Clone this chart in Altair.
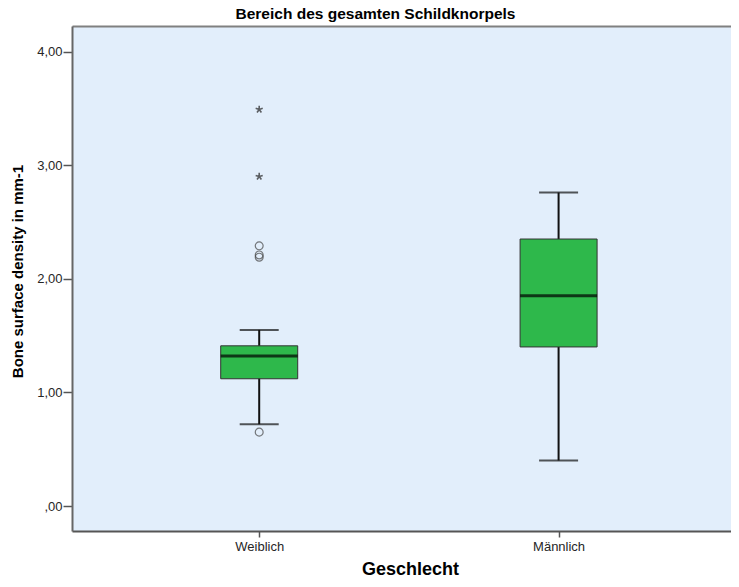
import altair as alt
import pandas as pd

# ---- data ----
groups = ["Weiblich", "Männlich"]
q1 = [1.12, 1.40]
median = [1.32, 1.85]
q3 = [1.41, 2.35]
whisker_low = [0.72, 0.40]
whisker_high = [1.55, 2.76]

outlier_group = ["Weiblich", "Weiblich", "Weiblich", "Weiblich"]
outlier_values = [0.65, 2.29, 2.21, 2.19]

extreme_group = ["Weiblich", "Weiblich"]
extreme_values = [3.49, 2.90]

y_ticks = [0, 1, 2, 3, 4]

# category position = index of the group in the category list
pos = {g: i for i, g in enumerate(groups)}

boxes = pd.DataFrame({
    "group": groups, "pos": [pos[g] for g in groups],
    "q1": q1, "median": median, "q3": q3,
    "lo": whisker_low, "hi": whisker_high,
})
outliers = pd.DataFrame({"group": outlier_group,
                         "pos": [pos[g] for g in outlier_group],
                         "value": outlier_values})
extremes = pd.DataFrame({"group": extreme_group,
                         "pos": [pos[g] for g in extreme_group],
                         "value": extreme_values})

x_scale = alt.Scale(domain=[-0.6086, 1.5592], nice=False, zero=False)
label_list = "[" + ",".join("'" + g + "'" for g in groups) + "]"

x_main = alt.X(
    "pos:Q",
    scale=x_scale,
    axis=alt.Axis(
        title="Geschlecht", values=list(range(len(groups))),
        labelExpr=label_list + "[datum.value]", grid=False,
        labelAngle=0, labelFontSize=13, labelColor="#262626",
        labelFont="Liberation Sans", labelPadding=3,
        tickSize=6, tickColor="#555555", tickWidth=1.5,
        domainColor="#555555", domainWidth=2,
        titleFont="Liberation Sans", titleFontSize=18, titleFontWeight="bold",
        titleColor="#000000", titleX=338, titleY=43, titleBaseline="alphabetic",
        titleAlign="center",
    ),
)
x_top = alt.X(
    "pos:Q", scale=x_scale,
    axis=alt.Axis(orient="top", title=None, labels=False, ticks=False, grid=False,
                  domainColor="#808080", domainWidth=2),
)
x_plain = alt.X("pos:Q", scale=x_scale, axis=None)

y_scale = alt.Scale(domain=[-0.22, 4.225], nice=False, zero=False)
y_axis = alt.Axis(
    title="Bone surface density in mm-1", values=y_ticks, grid=False,
    labelExpr="datum.value == 0 ? ',00' : replace(format(datum.value, '.2f'), '.', ',')",
    labelFontSize=13, labelColor="#262626", labelFont="Liberation Sans", labelPadding=1,
    tickSize=9, tickColor="#555555", tickWidth=1.5,
    domainColor="#666666", domainWidth=2,
    titleFont="Liberation Sans", titleFontSize=15, titleFontWeight="bold",
    titleColor="#000000", titleX=-47, titleY=245, titleAngle=-90,
    titleBaseline="bottom", titleAlign="center",
)

base = alt.Chart(boxes)

whisker = base.mark_rule(color="#111111", strokeWidth=2).encode(
    x=x_main,
    y=alt.Y("lo:Q", scale=y_scale, axis=y_axis),
    y2="hi:Q",
)
cap_lo = base.mark_tick(color="#111111", size=39, thickness=2, orient="horizontal").encode(
    x=x_top, y=alt.Y("lo:Q", scale=y_scale)
)
cap_hi = base.mark_tick(color="#111111", size=39, thickness=2, orient="horizontal").encode(
    x=x_plain, y=alt.Y("hi:Q", scale=y_scale)
)
box = base.mark_bar(size=77, color="#2EB84B", stroke="#333333", strokeWidth=1,
                    orient="vertical").encode(
    x=x_plain, y=alt.Y("q1:Q", scale=y_scale), y2="q3:Q"
)
med = base.mark_tick(color="#000000", size=77, thickness=3, orient="horizontal").encode(
    x=x_plain, y=alt.Y("median:Q", scale=y_scale)
)
out_pts = alt.Chart(outliers).mark_point(
    shape="circle", filled=False, size=62, stroke="#444444", strokeWidth=1.2
).encode(x=x_plain, y=alt.Y("value:Q", scale=y_scale))

star_path = ("M0,-1L0,0M0,0L0.951,-0.309M0,0L0.588,0.809"
             "M0,0L-0.588,0.809M0,0L-0.951,-0.309")
ext_pts = alt.Chart(extremes).mark_point(
    shape=star_path, filled=False, size=55, stroke="#222222", strokeWidth=1.6
).encode(x=x_plain, y=alt.Y("value:Q", scale=y_scale))

chart = alt.layer(whisker, cap_lo, cap_hi, box, med, out_pts, ext_pts).resolve_axis(
    x="independent"
).properties(
    width=659,
    height=505,
    title=alt.TitleParams(
        text="Bereich des gesamten Schildknorpels",
        font="Liberation Sans",
        fontSize=15.5, fontWeight="bold", color="#000000",
        anchor="middle", dx=-26, offset=4,
    ),
    autosize=alt.AutoSizeParams(type="none"),
    padding={"left": 64, "top": 18, "right": 0, "bottom": 45},
).configure(
    background="#FFFFFF"
).configure_view(
    fill="#E2EEFB", stroke=None
)

chart.save("out.html", embed_options={"renderer": "svg", "actions": False})
